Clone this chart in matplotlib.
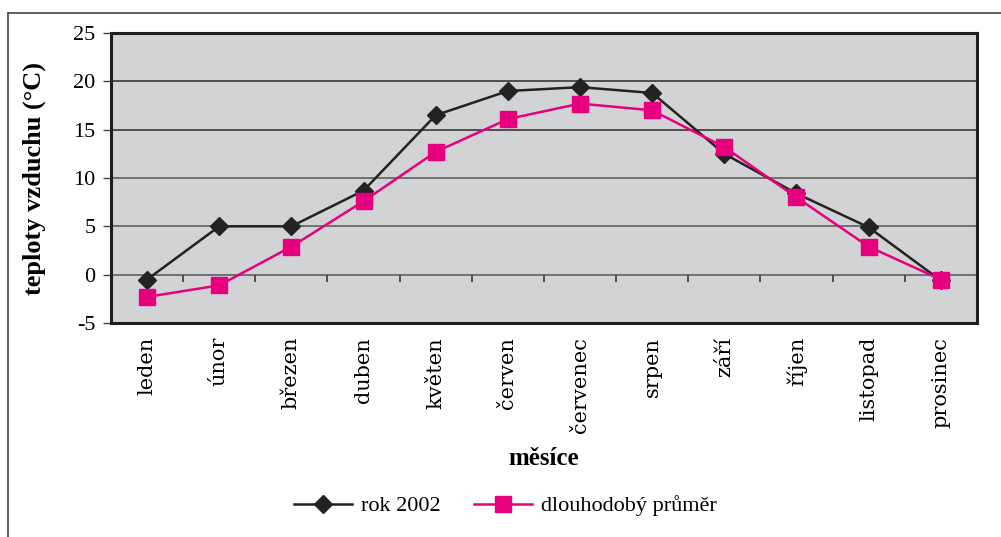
import matplotlib.pyplot as plt
from matplotlib.lines import Line2D
import numpy as np

plt.rcParams['font.family'] = ['Liberation Serif', 'DejaVu Serif']

##data
mesice = ['leden', 'únor', 'březen', 'duben', 'květen', 'červen',
          'červenec', 'srpen', 'září', 'říjen', 'listopad', 'prosinec']
rok_2002 = [-0.5, 5.0, 5.0, 8.7, 16.5, 19.0, 19.4, 18.8, 12.5, 8.4, 4.9, -0.6]
prumer = [-2.3, -1.1, 2.9, 7.6, 12.7, 16.1, 17.7, 17.0, 13.2, 8.0, 2.9, -0.5]
yticks = [-5, 0, 5, 10, 15, 20, 25]

fig = plt.figure(figsize=(10.01, 5.37), dpi=100)
ax = fig.add_axes([0.1109, 0.3985, 0.865, 0.540])
ax.set_facecolor('#d2d3d5')

x = np.arange(len(mesice))
##grid lines
for v in yticks[1:-1]:
    ax.axhline(v, color='#2a2a2a' if v > 10 else '#555555', lw=1.1, zorder=1)
##category ticks on the zero line
ax.vlines(np.arange(-0.5, len(mesice)), -0.8, 0, color='#444444', lw=1.3, zorder=1)

ax.plot(x, rok_2002, color='#222222', lw=1.8, marker='D', markersize=9, zorder=3,
        label='rok 2002')
ax.plot(x, prumer, color='#e6007e', lw=1.8, marker='s', markersize=11, zorder=4,
        label='dlouhodobý průměr')

ax.set_xlim(-0.5, len(mesice) - 0.5)
ax.set_ylim(-5, 25)
ax.set_yticks(yticks)
ax.set_yticklabels([str(v) for v in yticks], fontsize=16)
ax.tick_params(axis='y', length=6, width=1, color='#444444', pad=5)
ax.set_xticks(x)
ax.set_xticklabels(mesice, rotation=90, fontsize=15, va='top', family='DejaVu Serif')
ax.tick_params(axis='x', length=0, pad=10)
for s in ax.spines.values():
    s.set_linewidth(2.2)
    s.set_color('#1e1e1e')

ax.set_ylabel('teploty vzduchu (°C)', fontsize=19, fontweight='bold', labelpad=20)
ax.set_xlabel('měsíce', fontsize=18, fontweight='bold', labelpad=10)

fig.legend(loc='center', bbox_to_anchor=(0.505, 0.058), ncol=2, frameon=False,
           fontsize=16, handlelength=2.6, columnspacing=1.5, handletextpad=0.4)

##outer border (top and left)
fig.add_artist(Line2D([0.008, 1.0], [1 - 13 / 537, 1 - 13 / 537], color='#444444', lw=1.2))
fig.add_artist(Line2D([0.008, 0.008], [0, 1 - 13 / 537], color='#444444', lw=1.2))

plt.savefig('out.png', dpi=100)
